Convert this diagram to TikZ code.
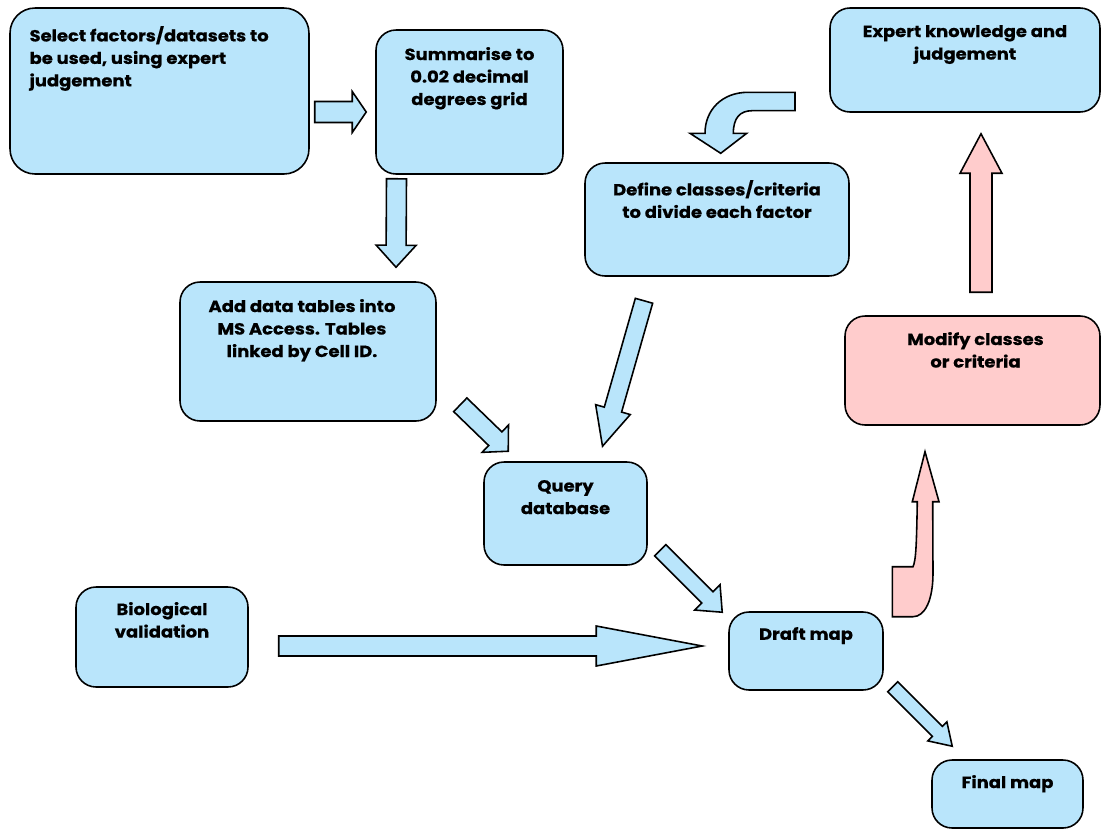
\documentclass[tikz,border=0pt]{standalone}
\usepackage{fontspec}
\setmainfont{Poppins}[FakeStretch=1.11,BoldFeatures={FakeBold=0.6}]
\usepackage{tikz}
\usetikzlibrary{positioning,calc}
\definecolor{boxblue}{HTML}{B9E5FB}
\definecolor{boxpink}{HTML}{FFCCCC}

% block arrow: [fill]{from}{to}{half shaft}{half head}{head length}
\newcommand{\blockarrow}[6][boxblue]{%
  \draw[arrline,fill=#1] let \p1=(#2), \p2=(#3),
      \n1={atan2(\y2-\y1,\x2-\x1)}, \n2={veclen(\x2-\x1,\y2-\y1)-#6} in
    ($(\p1)+(\n1+90:#4)$) -- ($(\p1)+(\n1:\n2)+(\n1+90:#4)$)
    -- ($(\p1)+(\n1:\n2)+(\n1+90:#5)$) -- (\p2)
    -- ($(\p1)+(\n1:\n2)+(\n1-90:#5)$)
    -- ($(\p1)+(\n1:\n2)+(\n1-90:#4)$)
    -- ($(\p1)+(\n1-90:#4)$) -- cycle;}

\begin{document}
\begin{tikzpicture}[x=0.02cm,y=-0.02cm]
  \tikzstyle{bx}=[draw,line width=0.9pt,rounded corners=0.4cm,fill=boxblue,inner sep=0pt]
  \tikzstyle{txt}=[align=center,inner sep=0pt,font=\fontsize{9.2}{12.8}\selectfont\bfseries]
  \tikzstyle{arrline}=[line width=0.9pt,line join=miter]
  \useasboundingbox (0,0) rectangle (1102,829);
  % boxes
  \node[bx,rounded corners=0.5cm,minimum width=5.98cm,minimum height=3.32cm] (sel) at (159.5,91) {};
  \node[bx,minimum width=3.74cm,minimum height=2.88cm] (sum) at (469.5,102) {};
  \node[bx,minimum width=5.4cm,minimum height=2.08cm]  (exp) at (965,60) {};
  \node[bx,minimum width=5.28cm,minimum height=2.26cm] (def) at (717,219.5) {};
  \node[bx,minimum width=5.12cm,minimum height=2.78cm] (add) at (308,351.5) {};
  \node[bx,fill=boxpink,minimum width=5.1cm,minimum height=2.18cm] (mod) at (972.5,370.5) {};
  \node[bx,minimum width=3.26cm,minimum height=2.06cm] (qry) at (565.5,513.5) {};
  \node[bx,minimum width=3.44cm,minimum height=2cm]    (bio) at (162,637) {};
  \node[bx,minimum width=3.08cm,minimum height=1.56cm] (drf) at (806,651) {};
  \node[bx,minimum width=3.02cm,minimum height=1.36cm] (fin) at (1007.5,794) {};
  % texts
  \node[txt,align=left,below right=0.37cm and 0.4cm of sel.north west] (selt)
    {Select factors/datasets to\\be used, using expert\\judgement};
  \node[txt,below=0.35cm of sum.north] (sumt) {Summarise to\\0.02 decimal\\degrees grid};
  \node[txt,below=0.35cm of exp.north] (expt) {Expert knowledge and\\judgement};
  \node[txt,below=0.35cm of def.north] (deft) {Define classes/criteria\\to divide each factor};
  \node[txt,below=0.35cm of add.north,xshift=-0.12cm] (addt)
    {Add data tables into\\MS Access. Tables\\linked by Cell ID.};
  \node[txt,below=0.33cm of mod.north,xshift=0.06cm] (modt) {Modify classes\\or criteria};
  \node[txt,below=0.37cm of qry.north] (qryt) {Query\\database};
  \node[txt,below=0.31cm of bio.north] (biot) {Biological\\validation};
  \node[txt,below=0.31cm of drf.north] (drft) {Draft map};
  \node[txt,below=0.31cm of fin.north] (fint) {Final map};
  % arrow ends
  \coordinate (a1s) at ($(sel.east)+(5,21)$);
  \coordinate (a1e) at ($(sum.west)+(-9,10)$);
  \coordinate (a2s) at ($(sum.south)+(-73,4)$);
  \coordinate (a2e) at ($(add.north)+(88,-14)$);
  \coordinate (a3s) at ($(add.south east)+(23.5,-17)$);
  \coordinate (a3e) at ($(qry.north west)+(25,-10)$);
  \coordinate (a4s) at ($(qry.south east)+(12.5,-15.5)$);
  \coordinate (a4e) at ($(drf.north west)+(-6,1)$);
  \coordinate (a5s) at ($(def.south)+(-73,24)$);
  \coordinate (a5e) at ($(qry.north)+(37,-15)$);
  \coordinate (a6s) at ($(drf.south east)+(9,-4)$);
  \coordinate (a6e) at ($(fin.north west)+(21,-13)$);
  \coordinate (a7s) at ($(bio.east)+(30,9)$);
  \coordinate (a7e) at ($(drf.west)+(-26,-5)$);
  \coordinate (a8s) at ($(mod.north)+(8.5,-23)$);
  \coordinate (a8e) at ($(exp.south)+(16,21)$);
  % straight arrows
  \blockarrow{a1s}{a1e}{0.21cm}{0.41cm}{0.28cm}
  \blockarrow{a2s}{a2e}{0.2cm}{0.4cm}{0.44cm}
  \blockarrow{a3s}{a3e}{0.19cm}{0.38cm}{0.36cm}
  \blockarrow{a4s}{a4e}{0.16cm}{0.36cm}{0.42cm}
  \blockarrow{a5s}{a5e}{0.18cm}{0.36cm}{0.76cm}
  \blockarrow{a6s}{a6e}{0.14cm}{0.27cm}{0.42cm}
  \blockarrow{a7s}{a7e}{0.2cm}{0.4cm}{2.12cm}
  \blockarrow[boxpink]{a8s}{a8e}{0.22cm}{0.42cm}{0.79cm}
  % bent arrows
  \draw[arrline,fill=boxblue] (795,92.3) -- (748,92.3)
    .. controls (722,92.3) and (705,110) .. (705,133.3) -- (690,133.3)
    -- (720.7,153.3) -- (746.7,133.3) -- (733.3,133.3)
    .. controls (733.3,118) and (740,110.7) .. (752,110.7) -- (795,110.7) -- cycle;
  \draw[arrline,fill=boxpink] (892.3,616.7) -- (892.3,566.7) -- (913,566.7)
    .. controls (916,560) and (916.5,545) .. (917.3,501.7) -- (912.3,501.7)
    -- (925,451.7) -- (939,501.7) -- (932.7,501.7) -- (933,573)
    .. controls (933,600) and (925,616.7) .. (913,616.7) -- cycle;
\end{tikzpicture}
\end{document}
